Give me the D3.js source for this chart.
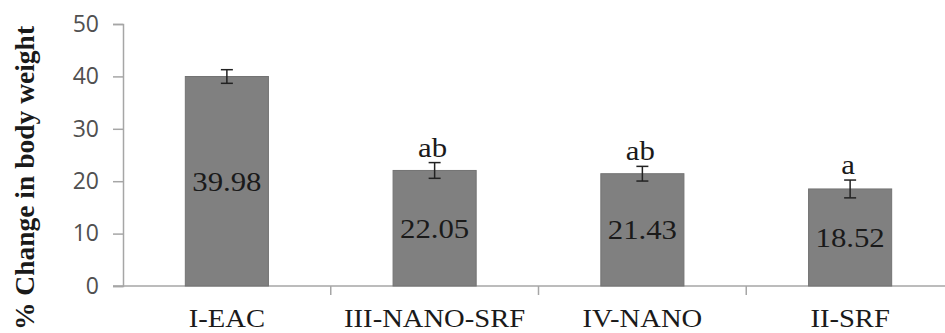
<!DOCTYPE html>
<html>
<head>
<meta charset="utf-8">
<script src="https://cdn.jsdelivr.net/npm/d3@7"></script>
<style>
  html, body { margin: 0; padding: 0; background: #fff; }
  svg { display: block; }
</style>
</head>
<body>
<script>
const categories = ["I-EAC", "III-NANO-SRF", "IV-NANO", "II-SRF"];
const values = [39.98, 22.05, 21.43, 18.52];
const errors = [1.3, 1.5, 1.4, 1.7];
const letters = ["", "ab", "ab", "a"];
const yTicks = [0, 10, 20, 30, 40, 50];
const yTitle = "% Change in body weight";

const W = 945, H = 333;
const SERIF = "Liberation Serif, serif";
const SX = 1.1; // horizontal stretch of the original picture's text
const svg = d3.select("body").append("svg").attr("width", W).attr("height", H);

const x = d3.scaleBand().domain(categories).range([123, 954]).paddingInner(0.6).paddingOuter(0.3);
const y = d3.scaleLinear().domain([0, 50]).range([286, 24]);

const axisColor = "#a6a6a6";

// y axis
const yAxis = svg.append("g").attr("transform", "translate(123,0)")
  .call(d3.axisLeft(y).tickValues(yTicks).tickSize(10).tickPadding(14).tickFormat(d3.format("d")));
yAxis.select(".domain").attr("stroke", axisColor).attr("stroke-width", 1.5);
yAxis.selectAll(".tick line").attr("stroke", axisColor).attr("stroke-width", 1.5);
yAxis.selectAll(".tick text").attr("font-family", "Open Sans, sans-serif").attr("font-size", 23)
  .attr("fill", "#505050");

// x axis baseline
const step = x.step();
const bandEdges = categories.map(c => x(c) - x.paddingInner() * step / 2);
svg.append("line").attr("x1", 113).attr("x2", W).attr("y1", y(0)).attr("y2", y(0))
  .attr("stroke", axisColor).attr("stroke-width", 1.5);
bandEdges.forEach((bx, i) => {
  if (i === 0) return;
  svg.append("line").attr("x1", bx).attr("x2", bx).attr("y1", y(0)).attr("y2", y(0) + 9)
    .attr("stroke", axisColor).attr("stroke-width", 1.5);
});

// bars
svg.selectAll("rect.bar").data(values).enter().append("rect")
  .attr("class", "bar")
  .attr("x", (d, i) => x(categories[i]))
  .attr("width", x.bandwidth())
  .attr("y", d => y(d))
  .attr("height", d => y(0) - y(d))
  .attr("fill", "#808080")
  .attr("stroke", "#737373")
  .attr("stroke-width", 1);

// error bars
const cx = i => x(categories[i]) + x.bandwidth() / 2;
const eb = svg.selectAll("g.err").data(values).enter().append("g").attr("class", "err")
  .attr("stroke", "#222").attr("stroke-width", 1.5);
eb.append("line")
  .attr("x1", (d, i) => cx(i)).attr("x2", (d, i) => cx(i))
  .attr("y1", (d, i) => y(d + errors[i])).attr("y2", (d, i) => y(d - errors[i]));
eb.append("line")
  .attr("x1", (d, i) => cx(i) - 6).attr("x2", (d, i) => cx(i) + 6)
  .attr("y1", (d, i) => y(d + errors[i])).attr("y2", (d, i) => y(d + errors[i]));
eb.append("line")
  .attr("x1", (d, i) => cx(i) - 6).attr("x2", (d, i) => cx(i) + 6)
  .attr("y1", (d, i) => y(d - errors[i])).attr("y2", (d, i) => y(d - errors[i]));

// value labels (centered in bars)
svg.selectAll("text.val").data(values).enter().append("text")
  .attr("class", "val")
  .attr("transform", (d, i) => `translate(${cx(i)},${(y(d) + y(0)) / 2 + 9.5}) scale(${SX},1)`)
  .attr("text-anchor", "middle")
  .attr("font-family", SERIF)
  .attr("font-size", 28)
  .attr("fill", "#1a1a1a")
  .text(d => d.toFixed(2));

// significance letters
svg.selectAll("text.sig").data(values).enter().append("text")
  .attr("class", "sig")
  .attr("transform", (d, i) => `translate(${cx(i) - 2},${y(d + errors[i]) - 6}) scale(${SX},1)`)
  .attr("text-anchor", "middle")
  .attr("font-family", SERIF)
  .attr("font-size", 28)
  .attr("fill", "#1a1a1a")
  .text((d, i) => letters[i]);

// category labels
svg.selectAll("text.cat").data(categories).enter().append("text")
  .attr("class", "cat")
  .attr("transform", d => `translate(${x(d) + x.bandwidth() / 2},327) scale(${SX},1)`)
  .attr("text-anchor", "middle")
  .attr("font-family", SERIF)
  .attr("font-size", 26)
  .attr("fill", "#1a1a1a")
  .text(d => d);

// y title
svg.append("text")
  .attr("transform", "translate(34,178) rotate(-90)")
  .attr("text-anchor", "middle")
  .attr("font-family", SERIF)
  .attr("font-weight", "bold")
  .attr("font-size", 27.5)
  .attr("fill", "#1a1a1a")
  .text(yTitle);
</script>
</body>
</html>
